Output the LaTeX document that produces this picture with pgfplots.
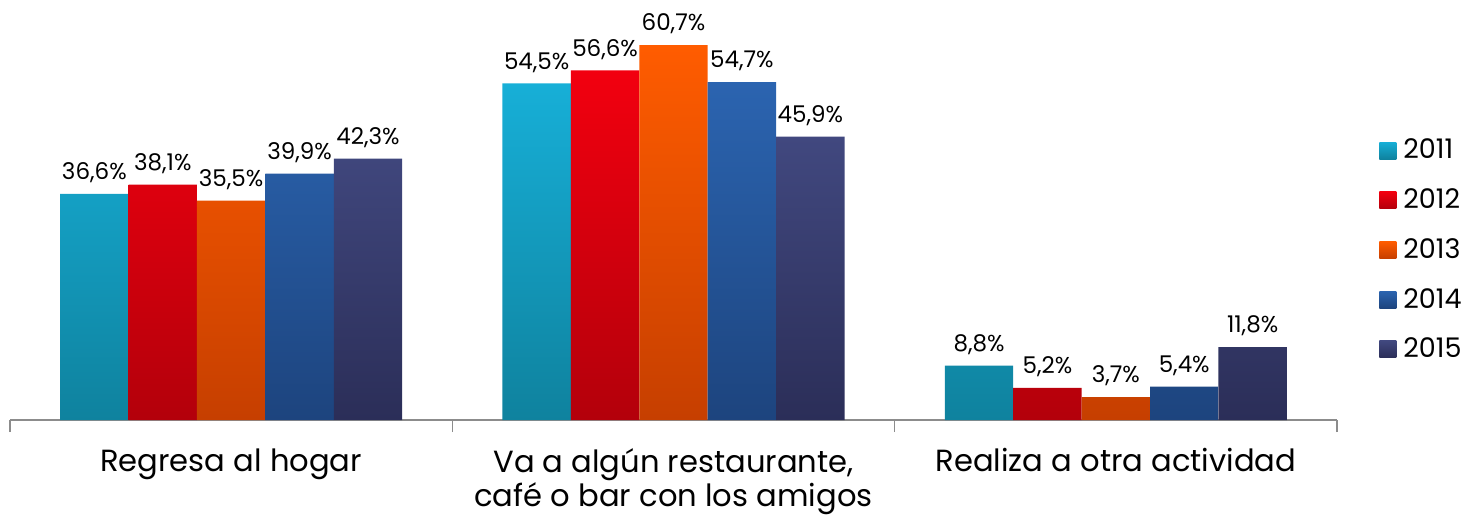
\documentclass[border=0pt]{standalone}
\usepackage{pgfplots}
\pgfplotsset{compat=1.18}
\usepackage{fontspec}
\setmainfont{Poppins}
\definecolor{c11t}{HTML}{17AFD7}\definecolor{c11b}{HTML}{0F829E}
\definecolor{c12t}{HTML}{F2000F}\definecolor{c12b}{HTML}{B3000B}
\definecolor{c13t}{HTML}{FF5C00}\definecolor{c13b}{HTML}{C63F00}
\definecolor{c14t}{HTML}{2B64B0}\definecolor{c14b}{HTML}{1D447E}
\definecolor{c15t}{HTML}{41487F}\definecolor{c15b}{HTML}{2B2E58}
\definecolor{axisgray}{HTML}{8C8C8C}
\begin{document}
\begin{tikzpicture}
\begin{axis}[
    at={(5pt,48pt)}, anchor=south west,
    scale only axis,
    width=663.5pt, height=210pt,
    ybar=0pt,
    bar width=34.2pt,
    ymin=0, ymax=68,
    xmin=-0.5, xmax=2.5,
    axis y line=none,
    axis x line=bottom,
    x axis line style={-, draw=axisgray, line width=0.8pt},
    xtick={0,1,2},
    major x tick style={draw=none},
    minor xtick={-0.5,0.5,1.5,2.5},
    minor x tick style={draw=axisgray, line width=0.8pt},
    minor tick length=6pt,
    tick align=outside,
    xticklabels={Regresa al hogar, {Va a algún restaurante,\\café o bar con los amigos}, Realiza a otra actividad},
    xticklabel style={align=center, font=\fontsize{15.3}{16.8}\selectfont, yshift=-6.5pt},
    nodes near coords={\pgfmathprintnumber[fixed,fixed zerofill,precision=1,use comma,assume math mode=true]{\pgfplotspointmeta}\%},
    every node near coord/.append style={black, font=\fontsize{11.5}{13}\selectfont, anchor=south, yshift=2pt},
    legend image code/.code={\path[#1] (0pt,-4.25pt) rectangle (8.5pt,4.25pt);},
    legend style={draw=none, fill=none, at={(1,0.405)}, anchor=west, xshift=21pt,
        font=\fontsize{13.5}{15}\selectfont, row sep=9.4pt, inner xsep=0pt,
        /tikz/every even column/.append style={column sep=1pt},
        /tikz/every odd column/.append style={column sep=1.5pt}},
    legend cell align=left,
    clip=false,
]
\addplot[draw=none, top color=c11t, bottom color=c11b] coordinates {(0,36.6) (1,54.5) (2,8.8)};
\addplot[draw=none, top color=c12t, bottom color=c12b] coordinates {(0,38.1) (1,56.6) (2,5.2)};
\addplot[draw=none, top color=c13t, bottom color=c13b] coordinates {(0,35.5) (1,60.7) (2,3.7)};
\addplot[draw=none, top color=c14t, bottom color=c14b] coordinates {(0,39.9) (1,54.7) (2,5.4)};
\addplot[draw=none, top color=c15t, bottom color=c15b] coordinates {(0,42.3) (1,45.9) (2,11.8)};
\legend{2011,2012,2013,2014,2015}
\end{axis}
\pgfresetboundingbox
\path[use as bounding box] (0,0) rectangle (737pt,258pt);
\end{tikzpicture}
\end{document}
